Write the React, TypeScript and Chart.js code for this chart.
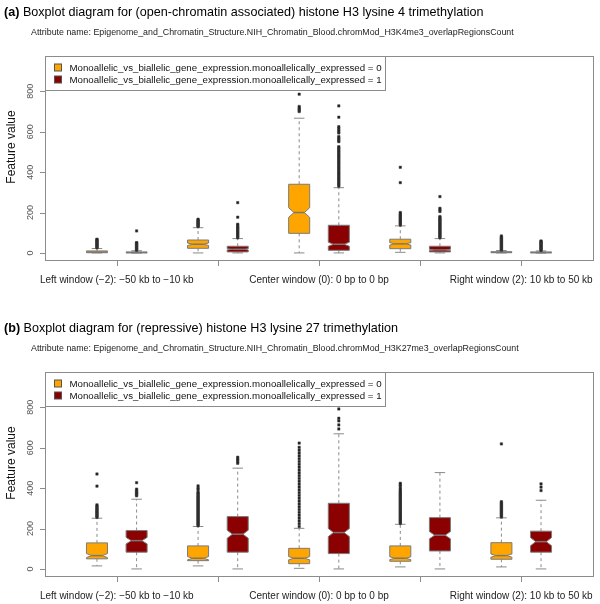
import React, { useEffect, useRef } from "react";
import { Chart, registerables } from "chart.js";
Chart.register(...registerables);

// ---------- data ----------
const windowPositions = [-2, -1, 0, 1, 2];
const windowLabels = [
  "Left window (−2): −50 kb to −10 kb",
  "",
  "Center window (0): 0 bp to 0 bp",
  "",
  "Right window (2): 10 kb to 50 kb",
];
const yTickValues = [0, 200, 400, 600, 800];
const legendLabels = [
  "Monoallelic_vs_biallelic_gene_expression.monoallelically_expressed = 0",
  "Monoallelic_vs_biallelic_gene_expression.monoallelically_expressed = 1",
];

// box stats: [lower whisker, q1, median, q3, upper whisker]
const k4Expr0Boxes = [
  [0, 1, 4, 10, 22],
  [0, 23, 43, 64, 125],
  [0, 97, 200, 340, 667],
  [3, 21, 45, 68, 134],
  [0, 1, 3, 6, 12],
];
const k4Expr1Boxes = [
  [0, 0, 2, 5, 11],
  [0, 5, 18, 33, 71],
  [0, 13, 43, 137, 323],
  [0, 5, 15, 33, 71],
  [0, 0, 2, 5, 10],
];
const k4Expr0Notch = [1, 6, 24, 6, 1];
const k4Expr1Notch = [1, 3, 10, 3, 1];

const k4Expr0Outliers = [
  [25, 29, 33, 37, 41, 45, 49, 53, 57, 61, 65, 68],
  [130, 134, 138, 142, 146, 150, 154, 158, 162, 167],
  [700, 705, 712, 718, 725, 786],
  [138, 143, 148, 153, 158, 163, 168, 173, 178, 183, 188, 194, 200, 348, 424],
  [14, 18, 22, 26, 30, 34, 38, 42, 46, 50, 54, 58, 62, 66, 70, 74, 78, 84],
];
const k4Expr1Outliers = [
  [13, 17, 21, 25, 29, 33, 37, 41, 45, 49, 51, 109],
  [75, 80, 85, 90, 95, 100, 105, 110, 115, 120, 125, 130, 136, 142, 177, 249],
  [330, 336, 342, 348, 354, 360, 366, 372, 378, 384, 390, 396, 402, 408, 414, 420, 426, 432, 438, 444, 450, 456, 462, 468, 474, 480, 486, 492, 498, 504, 510, 516, 521, 526, 551, 556, 563, 570, 576, 594, 600, 609, 617, 625, 672, 728],
  [75, 80, 85, 90, 95, 100, 105, 110, 115, 120, 125, 130, 135, 140, 145, 150, 155, 160, 165, 170, 175, 180, 205, 213, 221, 279],
  [12, 16, 20, 24, 28, 32, 36, 40, 44, 48, 52, 56, 59],
];

const k27Expr0Boxes = [
  [15, 50, 66, 129, 251],
  [15, 41, 53, 114, 210],
  [3, 26, 53, 102, 201],
  [10, 38, 53, 114, 221],
  [10, 48, 66, 130, 253],
];
const k27Expr1Boxes = [
  [0, 83, 140, 190, 345],
  [0, 83, 172, 259, 499],
  [0, 76, 180, 325, 669],
  [0, 89, 167, 254, 477],
  [0, 83, 135, 187, 340],
];
const k27Expr0Notch = [10, 8, 8, 7, 8];
const k27Expr1Notch = [16, 20, 20, 18, 20];

const k27Expr0Outliers = [
  [255, 260, 265, 270, 275, 280, 285, 290, 295, 300, 306, 311, 317, 410, 470],
  [214, 219, 224, 229, 234, 239, 244, 249, 254, 259, 264, 269, 274, 279, 284, 289, 294, 299, 304, 309, 314, 319, 324, 329, 334, 339, 344, 349, 354, 359, 364, 370, 375, 380, 392, 400, 411],
  [210, 224, 238, 252, 266, 280, 294, 308, 322, 336, 350, 364, 378, 392, 406, 420, 434, 448, 462, 476, 490, 504, 518, 532, 546, 560, 574, 588, 602, 623],
  [225, 230, 235, 240, 245, 250, 255, 260, 265, 270, 275, 280, 285, 290, 295, 300, 305, 310, 315, 320, 325, 330, 335, 340, 345, 350, 355, 360, 365, 370, 375, 380, 386, 392, 400, 410, 417, 424],
  [257, 262, 267, 272, 277, 282, 287, 292, 297, 302, 307, 312, 317, 322, 327, 333, 619],
];
const k27Expr1Outliers = [
  [362, 367, 372, 377, 382, 388, 395, 427],
  [523, 530, 538, 545, 553],
  [693, 713, 733, 746, 792],
  [],
  [388, 405, 421],
];

// ---------- styles ----------
const FONT = "'Liberation Sans', Arial, Helvetica, sans-serif";
const ORANGE = "#FFA500";
const DARKRED = "#8B0000";
const GROUP_OFFSET = 0.196;
const BOX_HALF = 0.104;

type Panel = {
  tag: string;
  title: string;
  subtitle: string;
  boxes0: number[][];
  boxes1: number[][];
  notch0: number[];
  notch1: number[];
  out0: number[][];
  out1: number[][];
};

const panels: Panel[] = [
  {
    tag: "(a)",
    title: "Boxplot diagram for (open-chromatin associated) histone H3 lysine 4 trimethylation",
    subtitle: "Attribute name: Epigenome_and_Chromatin_Structure.NIH_Chromatin_Blood.chromMod_H3K4me3_overlapRegionsCount",
    boxes0: k4Expr0Boxes,
    boxes1: k4Expr1Boxes,
    notch0: k4Expr0Notch,
    notch1: k4Expr1Notch,
    out0: k4Expr0Outliers,
    out1: k4Expr1Outliers,
  },
  {
    tag: "(b)",
    title: "Boxplot diagram for (repressive) histone H3 lysine 27 trimethylation",
    subtitle: "Attribute name: Epigenome_and_Chromatin_Structure.NIH_Chromatin_Blood.chromMod_H3K27me3_overlapRegionsCount",
    boxes0: k27Expr0Boxes,
    boxes1: k27Expr1Boxes,
    notch0: k27Expr0Notch,
    notch1: k27Expr1Notch,
    out0: k27Expr0Outliers,
    out1: k27Expr1Outliers,
  },
];

function makePlugin(p: Panel) {
  const drawBox = (ctx: CanvasRenderingContext2D, xs: any, ys: any, xc: number, st: number[], notch: number, fill: string) => {
    const [lw, q1, med, q3, uw] = st;
    const cx = xs.getPixelForValue(xc);
    const hw = xs.getPixelForValue(xc + BOX_HALF) - cx;
    const yq1 = ys.getPixelForValue(q1);
    const yq3 = ys.getPixelForValue(q3);
    const ym = ys.getPixelForValue(med);
    const ynl = ys.getPixelForValue(med - notch);
    const ynh = ys.getPixelForValue(med + notch);
    const ylw = ys.getPixelForValue(lw);
    const yuw = ys.getPixelForValue(uw);
    ctx.save();
    ctx.strokeStyle = "#8a8a8a";
    ctx.lineWidth = 1;
    ctx.setLineDash([3, 3]);
    ctx.beginPath();
    ctx.moveTo(cx, yq3);
    ctx.lineTo(cx, yuw);
    ctx.moveTo(cx, yq1);
    ctx.lineTo(cx, ylw);
    ctx.stroke();
    ctx.setLineDash([]);
    ctx.beginPath();
    ctx.moveTo(cx - hw / 2, yuw);
    ctx.lineTo(cx + hw / 2, yuw);
    ctx.moveTo(cx - hw / 2, ylw);
    ctx.lineTo(cx + hw / 2, ylw);
    ctx.stroke();
    ctx.beginPath();
    ctx.moveTo(cx - hw, yq1);
    ctx.lineTo(cx + hw, yq1);
    ctx.lineTo(cx + hw, ynl);
    ctx.lineTo(cx + hw / 2, ym);
    ctx.lineTo(cx + hw, ynh);
    ctx.lineTo(cx + hw, yq3);
    ctx.lineTo(cx - hw, yq3);
    ctx.lineTo(cx - hw, ynh);
    ctx.lineTo(cx - hw / 2, ym);
    ctx.lineTo(cx - hw, ynl);
    ctx.closePath();
    ctx.fillStyle = fill;
    ctx.fill();
    ctx.strokeStyle = "#7a7a7a";
    ctx.stroke();
    ctx.beginPath();
    ctx.lineWidth = 1.5;
    ctx.strokeStyle = "#777";
    ctx.moveTo(cx - hw / 2, ym);
    ctx.lineTo(cx + hw / 2, ym);
    ctx.stroke();
    ctx.restore();
  };

  return {
    id: "boxPanel",
    beforeDatasetsDraw(chart: any) {
      const ctx = chart.ctx as CanvasRenderingContext2D;
      const xs = chart.scales.x;
      const ys = chart.scales.y;
      const a = chart.chartArea;
      ctx.save();
      ctx.beginPath();
      ctx.rect(a.left, a.top, a.right - a.left, a.bottom - a.top);
      ctx.clip();
      windowPositions.forEach((w, i) => {
        drawBox(ctx, xs, ys, w - GROUP_OFFSET, p.boxes0[i], p.notch0[i], ORANGE);
        drawBox(ctx, xs, ys, w + GROUP_OFFSET, p.boxes1[i], p.notch1[i], DARKRED);
      });
      ctx.restore();
    },
    afterDatasetsDraw(chart: any) {
      const ctx = chart.ctx as CanvasRenderingContext2D;
      const xs = chart.scales.x;
      const ys = chart.scales.y;
      const a = chart.chartArea;
      ctx.save();
      ctx.strokeStyle = "#8c8c8c";
      ctx.lineWidth = 1;
      ctx.strokeRect(Math.round(a.left) + 0.5, Math.round(a.top) + 0.5, Math.round(a.right - a.left), Math.round(a.bottom - a.top));
      // legend
      const lx = Math.round(a.left) + 0.5;
      const ly = Math.round(a.top) + 0.5;
      ctx.fillStyle = "#fff";
      ctx.fillRect(lx, ly, 340, 34);
      ctx.strokeRect(lx, ly, 340, 34);
      ctx.font = `9.7px ${FONT}`;
      ctx.textBaseline = "middle";
      ctx.textAlign = "left";
      [ORANGE, DARKRED].forEach((c, i) => {
        const yy = ly + 11 + i * 12;
        ctx.fillStyle = c;
        ctx.fillRect(lx + 9, yy - 3.5, 7, 7);
        ctx.strokeStyle = "#555";
        ctx.strokeRect(lx + 9, yy - 3.5, 7, 7);
        ctx.fillStyle = "#111";
        ctx.fillText(legendLabels[i], lx + 24, yy + 0.5);
      });
      // x ticks and labels
      ctx.strokeStyle = "#8c8c8c";
      ctx.beginPath();
      windowPositions.forEach((w) => {
        const px = Math.round(xs.getPixelForValue(w)) + 0.5;
        ctx.moveTo(px, a.bottom);
        ctx.lineTo(px, a.bottom + 6);
      });
      ctx.stroke();
      ctx.fillStyle = "#222";
      ctx.font = `10px ${FONT}`;
      ctx.textAlign = "center";
      windowPositions.forEach((w, i) => {
        if (windowLabels[i]) ctx.fillText(windowLabels[i], xs.getPixelForValue(w), a.bottom + 20);
      });
      // y ticks and labels
      ctx.beginPath();
      yTickValues.forEach((v) => {
        const py = Math.round(ys.getPixelForValue(v)) + 0.5;
        ctx.moveTo(a.left - 5, py);
        ctx.lineTo(a.left, py);
      });
      ctx.stroke();
      ctx.fillStyle = "#555";
      ctx.font = `9px ${FONT}`;
      yTickValues.forEach((v) => {
        ctx.save();
        ctx.translate(a.left - 14, ys.getPixelForValue(v));
        ctx.rotate(-Math.PI / 2);
        ctx.textAlign = "center";
        ctx.textBaseline = "middle";
        ctx.fillText(String(v), 0, 0);
        ctx.restore();
      });
      // y title
      ctx.save();
      ctx.translate(12, a.top + 91);
      ctx.rotate(-Math.PI / 2);
      ctx.fillStyle = "#111";
      ctx.font = `12px ${FONT}`;
      ctx.textAlign = "center";
      ctx.textBaseline = "middle";
      ctx.fillText("Feature value", 0, 0);
      ctx.restore();
      // titles
      ctx.textAlign = "left";
      ctx.textBaseline = "middle";
      ctx.fillStyle = "#000";
      ctx.font = `bold 12.6px ${FONT}`;
      ctx.fillText(p.tag, 4, 13);
      const tw = ctx.measureText(p.tag + " ").width;
      ctx.font = `12.6px ${FONT}`;
      ctx.fillText(p.title, 4 + tw, 13);
      ctx.fillStyle = "#222";
      ctx.font = `8.85px ${FONT}`;
      ctx.fillText(p.subtitle, 31, 33);
      ctx.restore();
    },
  };
}

function toPoints(out: number[][], offset: number) {
  const pts: { x: number; y: number }[] = [];
  out.forEach((vals, i) => {
    vals.forEach((v) => pts.push({ x: windowPositions[i] + offset, y: v }));
  });
  return pts;
}

function BoxPanel({ panel, height }: { panel: Panel; height: number }) {
  const ref = useRef<HTMLCanvasElement>(null);
  useEffect(() => {
    if (!ref.current) return;
    const chart = new Chart(ref.current, {
      type: "scatter",
      data: {
        datasets: [
          {
            data: toPoints(panel.out0, -GROUP_OFFSET),
            pointStyle: "rect",
            pointRadius: 1.7,
            backgroundColor: "#1a1a1a",
            borderColor: "#444",
            borderWidth: 0.5,
          },
          {
            data: toPoints(panel.out1, GROUP_OFFSET),
            pointStyle: "rect",
            pointRadius: 1.7,
            backgroundColor: "#1a1a1a",
            borderColor: "#444",
            borderWidth: 0.5,
          },
        ],
      },
      options: {
        responsive: false,
        animation: false,
        devicePixelRatio: 1,
        layout: { padding: { left: 45, right: 7, top: 56, bottom: height - 260 } },
        plugins: { legend: { display: false }, tooltip: { enabled: false }, title: { display: false } },
        scales: {
          x: { type: "linear", display: false, min: -2.71, max: 2.71 },
          y: { type: "linear", display: false, min: -35, max: 975 },
        },
      },
      plugins: [makePlugin(panel)],
    } as any);
    return () => chart.destroy();
  }, [panel, height]);
  return <canvas ref={ref} width={600} height={height} style={{ display: "block", width: 600, height }} />;
}

export default function App() {
  return (
    <div style={{ position: "absolute", left: 0, top: 0, width: 600, height: 604, background: "#fff", overflow: "hidden" }}>
      <BoxPanel panel={panels[0]} height={316} />
      <BoxPanel panel={panels[1]} height={288} />
    </div>
  );
}
